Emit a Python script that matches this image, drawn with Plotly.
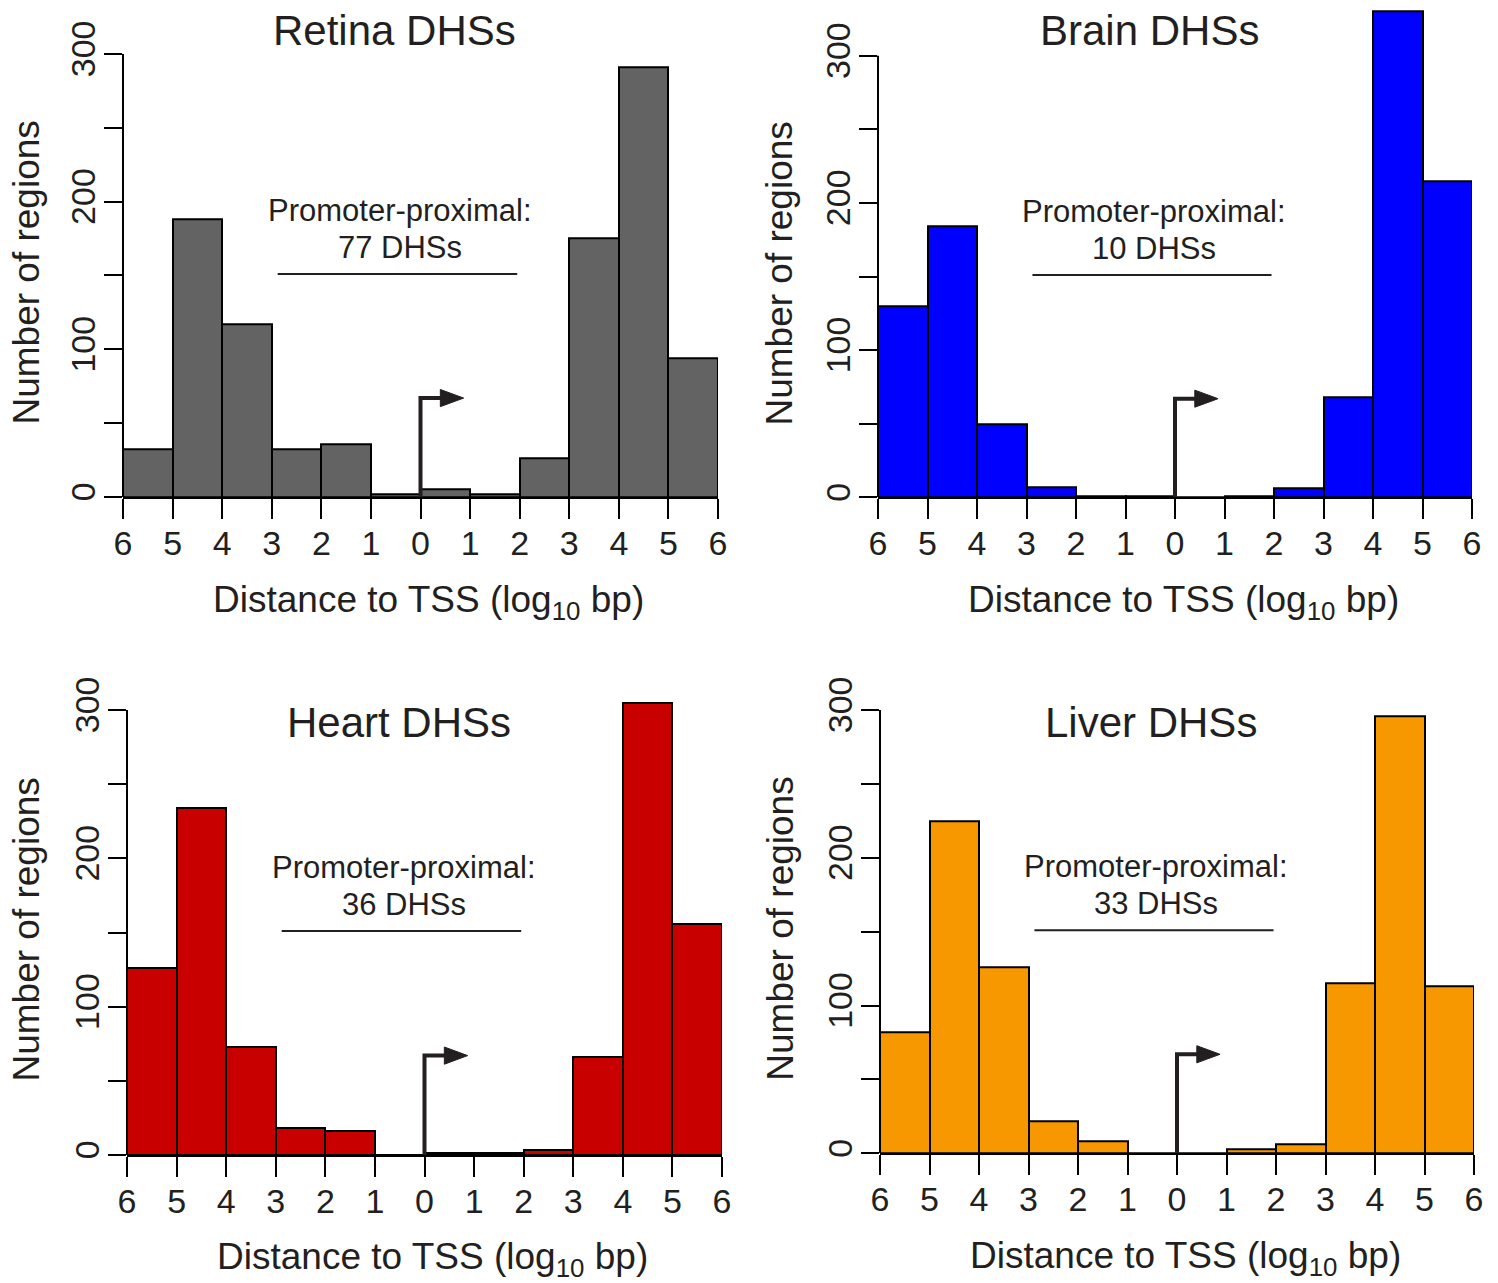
import plotly.graph_objects as go

# ---------------- data ----------------
BIN_EDGES = [-6, -5, -4, -3, -2, -1, 0, 1, 2, 3, 4, 5, 6]
X_TICK_VALS = [-6, -5, -4, -3, -2, -1, 0, 1, 2, 3, 4, 5, 6]
X_TICK_TEXT = ["6", "5", "4", "3", "2", "1", "0", "1", "2", "3", "4", "5", "6"]
Y_TICK_VALS = [0, 100, 200, 300]
Y_TICK_TEXT = ["0", "100", "200", "300"]
Y_MINOR_STEP = 50

TISSUES = ["Retina", "Brain", "Heart", "Liver"]
RETINA = [32, 188, 117, 32, 36, 2, 5, 2, 26, 175, 291, 94]
BRAIN = [130, 184, 50, 7, 1, 1, 0, 1, 6, 68, 330, 215]
HEART = [126, 234, 73, 18, 16, 0, 1, 1, 3, 66, 305, 156]
LIVER = [82, 225, 126, 22, 8, 0, 0, 3, 6, 115, 296, 113]
PROMOTER_PROXIMAL = [77, 10, 36, 33]

COLORS = ["#636363", "#0000FF", "#C80000", "#F89800"]
TXT = "#231F20"
FONT = "Liberation Sans, Arial, sans-serif"

W, H = 1498, 1283

# panel geometry in pixels
PANELS = [
    dict(x0=123, x1=718, y0=497.0, s=1.4767, ty=31, xty=600, ytx=27),
    dict(x0=878, x1=1472, y0=497.3, s=1.472, ty=31, xty=600, ytx=780),
    dict(x0=127, x1=722, y0=1155.0, s=1.4833, ty=722, xty=1257, ytx=27),
    dict(x0=880, x1=1474, y0=1153.3, s=1.4778, ty=722, xty=1256, ytx=781),
]
Y_MAX = 335

def px_x(px):
    return px / W

def px_y(py):
    return 1 - py / H

centers = [(a + b) / 2 for a, b in zip(BIN_EDGES[:-1], BIN_EDGES[1:])]
series = [RETINA, BRAIN, HEART, LIVER]

fig = go.Figure()
annotations = []
shapes = []
layout_axes = {}

for i, (name, vals, col, geo, pp) in enumerate(zip(TISSUES, series, COLORS, PANELS, PROMOTER_PROXIMAL)):
    n = "" if i == 0 else str(i + 1)
    xa, ya = "x" + n, "y" + n
    fig.add_trace(go.Bar(
        x=centers, y=vals, width=1,
        marker=dict(color=col, line=dict(color="black", width=2)),
        xaxis=xa, yaxis=ya, showlegend=False, hoverinfo="x+y",
    ))
    top_px = geo["y0"] - Y_MAX * geo["s"]
    layout_axes["xaxis" + n] = dict(
        domain=[px_x(geo["x0"]), px_x(geo["x1"])], anchor=ya, automargin=False,
        range=[-6, 6], tickvals=X_TICK_VALS, ticktext=X_TICK_TEXT,
        showline=True, linecolor="black", linewidth=2,
        ticks="outside", ticklen=20, tickwidth=2, tickcolor="black",
        showgrid=False, zeroline=False, ticklabelstandoff=-5,
        tickfont=dict(family=FONT, size=34, color=TXT), fixedrange=True,
    )
    layout_axes["yaxis" + n] = dict(
        domain=[px_y(geo["y0"]), px_y(top_px)], anchor=xa, automargin=False,
        range=[0, Y_MAX], tickvals=Y_TICK_VALS, ticktext=Y_TICK_TEXT,
        showline=False, ticks="outside", ticklen=18, tickwidth=2, tickcolor="black",
        minor=dict(dtick=Y_MINOR_STEP, tick0=0, ticks="outside", ticklen=18,
                   tickwidth=2, tickcolor="black", showgrid=False),
        showgrid=False, zeroline=False, tickangle=-90, ticklabelstandoff=-5,
        tickfont=dict(family=FONT, size=34, color=TXT), fixedrange=True,
    )
    # y axis line (0..300 only, as in R)
    shapes.append(dict(type="line", xref=xa + " domain", yref=ya, x0=0, x1=0, y0=0, y1=300,
                       line=dict(color="black", width=2), layer="above"))
    # promoter-proximal bracket line
    shapes.append(dict(type="line", xref=xa, yref=ya, x0=-2.88, x1=1.95, y0=151, y1=151,
                       line=dict(color=TXT, width=2)))
    # TSS arrow
    ah = 67
    shapes.append(dict(type="path", xref=xa, yref=ya,
                       path=f"M 0,0 L 0,{ah} L 0.45,{ah}",
                       line=dict(color=TXT, width=4)))
    shapes.append(dict(type="path", xref=xa, yref=ya,
                       path=f"M 0.4,{ah-5.8} L 0.87,{ah} L 0.4,{ah+5.8} Z",
                       fillcolor=TXT, line=dict(color=TXT, width=1)))
    # texts
    annotations.append(dict(xref=xa, yref=ya, x=-0.42, y=194, text="Promoter-proximal:",
                            showarrow=False, font=dict(family=FONT, size=31, color=TXT),
                            xanchor="center", yanchor="middle"))
    annotations.append(dict(xref=xa, yref=ya, x=-0.42, y=169, text=f"{pp} DHSs",
                            showarrow=False, font=dict(family=FONT, size=31, color=TXT),
                            xanchor="center", yanchor="middle"))
    mid_x = geo["x0"] + 0.457 * (geo["x1"] - geo["x0"])
    annotations.append(dict(xref="paper", yref="paper", x=px_x(mid_x), y=px_y(geo["ty"]),
                            text=f"{name} DHSs", showarrow=False,
                            font=dict(family=FONT, size=42, color=TXT),
                            xanchor="center", yanchor="middle"))
    xt_x = geo["x0"] + 0.514 * (geo["x1"] - geo["x0"])
    annotations.append(dict(xref="paper", yref="paper", x=px_x(xt_x), y=px_y(geo["xty"] + 2),
                            text="Distance to TSS (log<sub>10</sub> bp)", showarrow=False,
                            font=dict(family=FONT, size=37, color=TXT),
                            xanchor="center", yanchor="middle"))
    yt_y = geo["y0"] - 152 * geo["s"]
    annotations.append(dict(xref="paper", yref="paper", x=px_x(geo["ytx"]), y=px_y(yt_y),
                            text="Number of regions", showarrow=False, textangle=-90,
                            font=dict(family=FONT, size=37, color=TXT),
                            xanchor="center", yanchor="middle"))

fig.update_layout(
    width=W, height=H, margin=dict(l=0, r=0, t=0, b=0),
    paper_bgcolor="white", plot_bgcolor="white",
    bargap=0, showlegend=False,
    annotations=annotations, shapes=shapes,
    **layout_axes,
)

fig.write_html("out.html", config={"displayModeBar": False},
               post_script="document.body.style.margin='0px';")
